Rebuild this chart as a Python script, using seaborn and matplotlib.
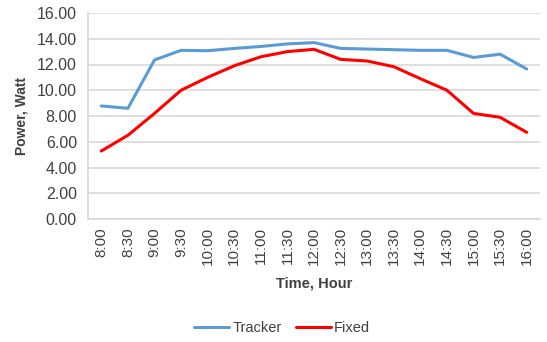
import matplotlib
matplotlib.use("Agg")
import matplotlib.pyplot as plt
import seaborn as sns
import pandas as pd

times = ["8:00", "8:30", "9:00", "9:30", "10:00", "10:30", "11:00", "11:30", "12:00",
         "12:30", "13:00", "13:30", "14:00", "14:30", "15:00", "15:30", "16:00"]
tracker = [8.78, 8.6, 12.35, 13.1, 13.07, 13.25, 13.4, 13.6, 13.7,
           13.25, 13.2, 13.15, 13.1, 13.1, 12.55, 12.8, 11.65]
fixed = [5.28, 6.5, 8.2, 10.0, 11.0, 11.9, 12.6, 13.0, 13.18,
         12.4, 12.27, 11.83, 10.9, 10.0, 8.2, 7.9, 6.73]

sns.set_theme(style="white")
plt.rcParams['font.family'] = ['Liberation Sans', 'DejaVu Sans']

df = pd.DataFrame({
    "pos": list(range(len(times))) * 2,
    "Power": tracker + fixed,
    "Series": ["Tracker"] * len(times) + ["Fixed"] * len(times),
})

fig = plt.figure(figsize=(5.47, 3.42), dpi=100)
ax = fig.add_axes([88/547, 1-219/342, (540-88)/547, (219-13)/342])

sns.lineplot(data=df, x="pos", y="Power", hue="Series",
             palette={"Tracker": "#5b9bd5", "Fixed": "#ff0000"},
             linewidth=2.2, ax=ax, legend=True)

ax.set_xlim(-0.5, len(times) - 0.5)
ax.set_ylim(0, 16)
yt = [0, 2, 4, 6, 8, 10, 12, 14, 16]
ax.set_yticks(yt)
ax.set_yticklabels([f"{v:.2f}" for v in yt], fontsize=11.5, color="#404040")
ax.set_xticks(range(len(times)))
ax.set_xticklabels(times, rotation=90, fontsize=11, color="#404040")
ax.grid(axis="y", color="#d9d9d9", linewidth=1.2)
ax.set_axisbelow(True)
for s in ["top", "right"]:
    ax.spines[s].set_visible(False)
ax.spines["bottom"].set_color("#d9d9d9")
ax.spines["left"].set_color("#d9d9d9")
ax.tick_params(axis="y", length=0, pad=8)
ax.tick_params(axis="x", length=0, pad=6)
ax.set_ylabel("Power, Watt", fontsize=10, fontweight="bold", color="#404040", labelpad=6)
ax.set_xlabel("Time, Hour", fontsize=10.5, fontweight="bold", color="#404040", labelpad=8)

ax.legend(loc="center", bbox_to_anchor=(0.43, -0.53), ncol=2, frameon=False,
          fontsize=10.5, handlelength=2.4, columnspacing=1.0, handletextpad=0.2,
          labelcolor="#404040")

fig.savefig("out.png", dpi=100)
